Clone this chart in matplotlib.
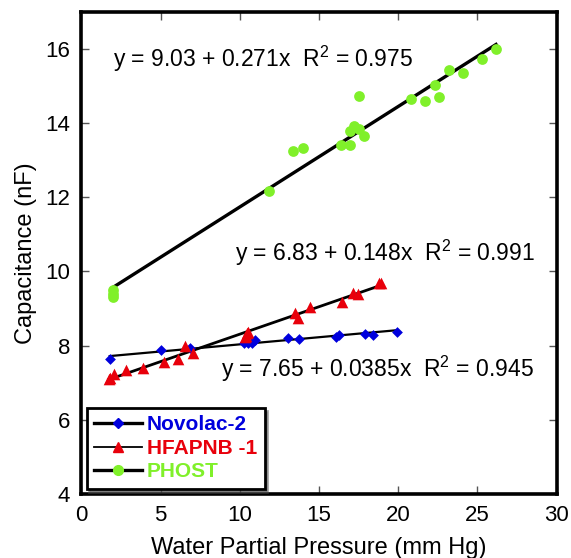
import numpy as np
import matplotlib
matplotlib.use("Agg")
import matplotlib.pyplot as plt
from matplotlib.lines import Line2D

plt.rcParams['font.family'] = ['Liberation Sans', 'DejaVu Sans']
plt.rcParams['mathtext.fontset'] = 'custom'
plt.rcParams['mathtext.rm'] = 'Liberation Sans'
plt.rcParams['mathtext.it'] = 'Liberation Sans:italic'

# Novolac-2
novolac_p = [1.79, 5.0, 6.85, 10.29, 10.5, 10.75, 10.96, 13.06, 13.76, 16.07, 16.24, 17.9, 18.38, 19.95]
novolac_c = [7.64, 7.88, 7.93, 8.06, 8.08, 8.06, 8.15, 8.21, 8.19, 8.22, 8.28, 8.31, 8.29, 8.36]

# HFAPNB -1
hfapnb_p = [1.72, 1.8, 2.04, 2.81, 3.87, 5.19, 6.11, 6.57, 7.06, 10.3, 10.4, 10.44, 10.5,
            13.5, 13.7, 14.4, 16.48, 17.16, 17.43, 18.8, 18.94]
hfapnb_c = [7.09, 7.12, 7.23, 7.34, 7.41, 7.55, 7.63, 8.0, 7.80, 8.22, 8.26, 8.33, 8.38,
            8.87, 8.74, 9.05, 9.19, 9.41, 9.39, 9.68, 9.70]

# PHOST
phost_p = [2.0, 2.0, 2.0, 11.85, 13.38, 13.97, 16.36, 16.93, 16.93, 17.2, 17.52, 17.81, 17.52,
           20.79, 21.7, 22.6, 22.31, 23.19, 24.07, 25.29, 26.17]
phost_c = [9.5, 9.4, 9.3, 12.17, 13.26, 13.34, 13.41, 13.42, 13.78, 13.91, 13.85, 13.65, 14.73,
           14.64, 14.61, 14.70, 15.04, 15.43, 15.36, 15.74, 15.99]

# linear fits as reported: intercept, slope, R^2
fits = {
    'novolac': (7.65, 0.0385, 0.945),
    'hfapnb': (6.83, 0.148, 0.991),
    'phost': (9.03, 0.271, 0.975),
}

BLUE = '#0000dd'
RED = '#e8000b'
GREEN = '#80f02a'

fig = plt.figure(figsize=(5.71, 5.58), dpi=100)
ax = fig.add_axes([0.1425, 0.1147, 0.8325, 0.864])

def fit_line(px, key, lw):
    a, b, _ = fits[key]
    xs = np.array([min(px), max(px)])
    ax.plot(xs, a + b * xs, color='black', lw=lw, zorder=3)

fit_line(novolac_p, 'novolac', 1.6)
fit_line(hfapnb_p, 'hfapnb', 2.0)
fit_line(phost_p, 'phost', 2.4)

ax.scatter(novolac_p, novolac_c, marker='D', s=30, color=BLUE, zorder=4, lw=0)
ax.scatter(hfapnb_p, hfapnb_c, marker='^', s=70, color=RED, zorder=4, lw=0)
ax.scatter(phost_p, phost_c, marker='o', s=60, color=GREEN, zorder=4, lw=0)

def eq_text(x, y, key):
    a, b, r2 = fits[key]
    ax.text(x, y, f"y = {a:g} + {b:g}x  R$^{{2}}$ = {r2:g}", fontsize=16.5,
            ha='left', va='center')

eq_text(2.0, 15.72, 'phost')
eq_text(9.7, 10.5, 'hfapnb')
eq_text(8.8, 7.38, 'novolac')

ax.set_xlim(0, 30)
ax.set_ylim(4, 17)
ax.set_xticks(range(0, 31, 5))
ax.set_yticks(range(4, 17, 2))
ax.tick_params(direction='in', top=True, right=True, length=6, width=1,
               color='#555555', labelsize=16, pad=8)
for sp in ax.spines.values():
    sp.set_linewidth(2.6)

ax.set_xlabel('Water Partial Pressure (mm Hg)', fontsize=17, labelpad=8)
ax.set_ylabel('Capacitance (nF)', fontsize=17, labelpad=6)

handles = [
    Line2D([], [], color='black', lw=2.4, marker='D', ms=5, mfc=BLUE, mec=BLUE),
    Line2D([], [], color='black', lw=1.3, marker='^', ms=7, mfc=RED, mec=RED),
    Line2D([], [], color='black', lw=2.4, marker='o', ms=7, mfc=GREEN, mec=GREEN),
]
leg = ax.legend(handles, ['Novolac-2', 'HFAPNB -1', 'PHOST'], loc='lower left',
                bbox_to_anchor=(0.0, 0.0), frameon=True, fancybox=False, shadow=True,
                prop={'weight': 'bold', 'size': 15}, handlelength=2.3,
                handletextpad=0.25, borderpad=0.35, labelspacing=0.22,
                borderaxespad=0.25)
leg.get_frame().set_edgecolor('black')
leg.get_frame().set_linewidth(2)
for t, c in zip(leg.get_texts(), [BLUE, RED, GREEN]):
    t.set_color(c)

fig.savefig('out.png', dpi=100)
